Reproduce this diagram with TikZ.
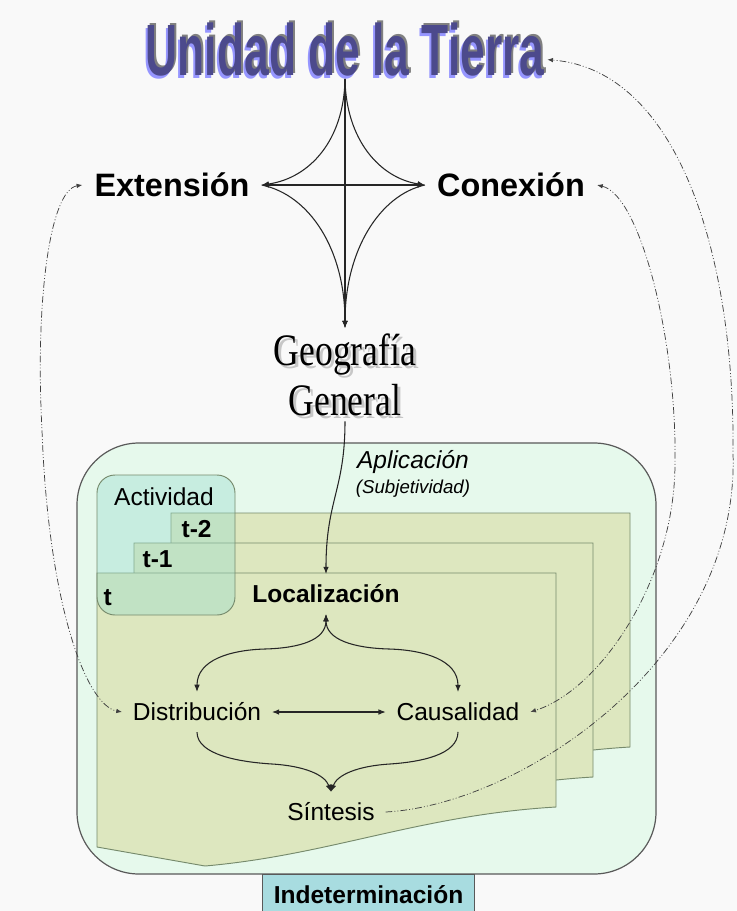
\documentclass[tikz,border=0pt]{standalone}
\usepackage{fontspec}
\setmainfont{Liberation Sans}
\newfontfamily\serifgeo{Liberation Serif}
\usepackage{graphicx}
\usetikzlibrary{positioning,arrows.meta}

\definecolor{paperbg}{RGB}{249,249,249}
\definecolor{mint}{RGB}{230,249,236}
\definecolor{sheetfill}{RGB}{221,231,191}
\definecolor{sheetline}{RGB}{118,138,108}
\definecolor{actfill}{RGB}{150,220,205}
\definecolor{indetfill}{RGB}{168,220,224}
\definecolor{titleblue}{RGB}{76,74,140}
\definecolor{titlegray}{RGB}{128,128,128}
\definecolor{titlelilac}{RGB}{150,150,255}

\newcommand{\narrowed}[2]{\scalebox{#1}[1]{#2}}

\begin{document}
\begin{tikzpicture}[x=0.75pt,y=-0.75pt,>={Latex[length=1.9mm,width=1.5mm]},
  titletext/.style={font=\fontsize{54.5}{60}\selectfont\bfseries,inner sep=2.25pt,anchor=base},
  head/.style={font=\fontsize{24.3}{28}\selectfont\bfseries,inner xsep=9pt},
  geo/.style={font=\serifgeo\fontsize{33.75}{37.5}\selectfont,align=center,inner xsep=0pt,inner ysep=4pt,anchor=north},
  lbl/.style={font=\fontsize{18.4}{22}\selectfont,inner sep=8pt},
  lblb/.style={font=\fontsize{18.4}{22}\selectfont\bfseries,inner sep=8pt},
  tlbl/.style={font=\fontsize{18.4}{22}\selectfont\bfseries,inner sep=1pt,anchor=west},
  link/.style={draw=black!85,line width=0.8pt},
  dd/.style={draw=black!75,line width=0.55pt,dash pattern=on 5pt off 1.6pt on 0.7pt off 1.6pt on 0.7pt off 1.6pt,>={Latex[length=1.5mm,width=1.2mm]}},
  sheet/.style={fill=sheetfill,draw=sheetline,line width=0.7pt},
  actbox/.style={fill=actfill,fill opacity=0.38,draw=sheetline,line width=0.7pt,rounded corners=13.5pt},
  frame/.style={fill=mint,draw=black!65,line width=0.9pt,rounded corners=46.5pt},
  indet/.style={fill=indetfill,draw=black!65,line width=0.9pt,font=\fontsize{18.4}{22}\selectfont\bfseries,minimum width=159pt,minimum height=30pt,anchor=north}]
  \fill[paperbg] (0,0) rectangle (737,911);
  \useasboundingbox (0,0) rectangle (737,911);
  \clip (0,0) rectangle (737,911);

  % ambito general
  \draw[frame] (77,443) rectangle (656,874);
  \node[indet] (indet) at (368.5,874) {Indeterminación};

  % hojas t-2, t-1, t
  \foreach \dx/\dy in {74/-60,37/-30,0/0}
    \draw[sheet,shift={(\dx,\dy)}] (97,573) -- (556,573) -- (556,807)
      .. controls (420,815) and (330,855) .. (205,866) -- (97,847) -- cycle;
  \draw[actbox] (97,475) rectangle (235,615);

  \node[lbl,inner sep=2pt] (act) at (164,497) {Actividad};
  \node[tlbl] (t2) at (180,529) {t-2};
  \node[tlbl] (t1) at (141,559) {t-1};
  \node[tlbl] (t0) at (102,598) {t};

  \node[font=\fontsize{18.4}{22}\selectfont\itshape,inner sep=1pt] (apl) at (413,462) {Aplicación};
  \node[font=\fontsize{14}{16}\selectfont\itshape,inner sep=1pt] (subj) at (413,489) {(Subjetividad)};

  \node[lblb] (loc) at (326,594) {Localización};
  \node[lbl] (dist) at (197,712) {Distribución};
  \node[lbl] (caus) at (458,712) {Causalidad};
  \node[lbl] (sint) at (331,812) {Síntesis};

  % titulo
  \node[titletext,text=titlelilac] (title-lo) at (343,78) {\narrowed{0.61}{Unidad de la Tierra}};
  \node[titletext,text=titlegray] (title-hi) at (347,73) {\narrowed{0.61}{Unidad de la Tierra}};
  \node[titletext,text=titleblue] (title) at (345,75) {\narrowed{0.61}{Unidad de la Tierra}};

  \node[head] (ext) at (172,185) {Extensión};
  \node[head] (con) at (511,185) {Conexión};

  \node[geo,text=black!22] (geo-sh) at (348,331) {\narrowed{0.79}{Geografía}\\\narrowed{0.79}{General}};
  \node[geo] (geo) at (345,328) {\narrowed{0.79}{Geografía}\\\narrowed{0.79}{General}};

  % estrella
  \draw[link,->] (title.south) -- (geo.north);
  \draw[link,<->] (ext.east) -- (con.west);
  \draw[link,->] (title.south) .. controls (344,140) and (310,178) .. (ext.east);
  \draw[link,->] (title.south) .. controls (346,140) and (380,178) .. (con.west);
  \draw[link,->] (ext.east) .. controls (310,195) and (345,250) .. (geo.north);
  \draw[link,->] (con.west) .. controls (380,195) and (345,250) .. (geo.north);

  \draw[link,->] (geo.south) .. controls (345,490) and (326,500) .. (loc.north);

  % relaciones internas
  \draw[link,<->] (dist) -- (caus);
  \draw[link,<->] (dist.north) .. controls (197,660) and (230,650) .. (265,649)
    .. controls (300,648) and (326,640) .. (loc.south);
  \draw[link,<->] (caus.north) .. controls (458,660) and (424,650) .. (389,649)
    .. controls (354,648) and (326,640) .. (loc.south);
  \draw[link,->] (dist.south) .. controls (197,755) and (240,762) .. (272,764)
    .. controls (305,766) and (325,775) .. (sint.north);
  \draw[link,->] (caus.south) .. controls (458,755) and (420,762) .. (390,764)
    .. controls (357,766) and (337,775) .. (sint.north);

  % retornos
  \draw[dd,<->] (ext.west) .. controls (50,190) and (35,300) .. (42,430)
    .. controls (48,600) and (85,705) .. (dist.west);
  \draw[dd,<->] (con.east) .. controls (640,195) and (677,340) .. (675,463)
    .. controls (675,580) and (600,690) .. (caus.east);
  \draw[dd,->] (sint.east) .. controls (520,805) and (740,660) .. (733,453)
    .. controls (735,260) and (680,70) .. (title.-3);
\end{tikzpicture}
\end{document}
